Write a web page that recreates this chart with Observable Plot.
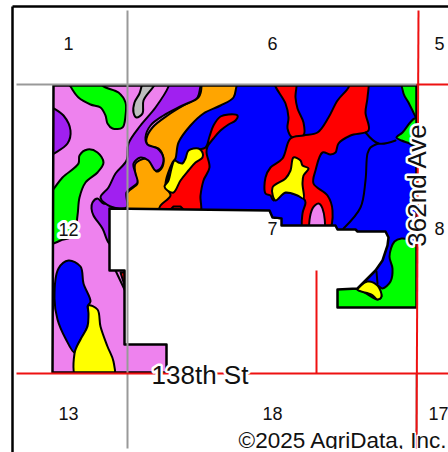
<!DOCTYPE html>
<html>
<head>
<meta charset="utf-8">
<style>html,body{margin:0;padding:0;background:#fff}svg{display:block}</style>
<script src="https://cdn.jsdelivr.net/npm/d3@7"></script>
<script src="https://cdn.jsdelivr.net/npm/@observablehq/plot@0.6"></script>
</head>
<body>
<div id="chart"></div>
<script>
const colors = {pink:"#EE82EE",purple:"#A020F0",orange:"#FFA500",blue:"#0000FF",red:"#FF0000",yellow:"#FFFF00",green:"#00FF00",gray:"#BEBEBE"};

const fieldOutline = [[53,85],[416,85],[416,307],[337,307],[337,289],[357,288],[375,270],[382,260],[387,245],[388,237],[385,231],[357,231],[355,229],[337,229],[335,225],[281,225],[281,218],[272,217],[269,210],[109,208],[109,270],[124,270],[124,344],[166,344],[166,372],[52,372]];

const pinkBase = [[40,70],[430,70],[430,390],[40,390]];
const purpleWest = [[40,100],[52,107],[63,115],[70,130],[67,143],[52,154],[40,162]];
const greenNorth = [[64,76],[70,86],[78,97],[90,104],[100,107],[105,115],[107,123],[112,128],[122,127],[125,115],[125,102],[118,92],[102,85],[100,76]];
const grayPatch = [[143,76],[141,86],[139,93],[134,102],[133,112],[136,117],[142,113],[143,100],[153,86],[158,76]];
const greenWest = [[40,205],[52,190],[62,177],[78,163],[79,155],[87,149],[97,152],[103,162],[97,172],[85,182],[79,197],[77,215],[73,235],[60,240],[53,243],[40,245]];
const purpleSmall = [[97,198],[92,202],[91,208],[93,215],[102,228],[108,242],[114,246],[114,204],[103,203]];
const blueSouth = [[68,260],[80,266],[83,283],[90,301],[87,306],[89,314],[87,326],[78,343],[74,352],[65,338],[57,319],[54,298],[58,268]];
const yellowSouth = [[88,305],[97,309],[100,326],[107,346],[113,361],[113,380],[77,380],[74,353],[80,339],[87,326],[88,314]];
const redNotch = [[120,272],[125,272],[125,288]];
const blueBase = [[205,70],[200,100],[170,140],[165,215],[165,320],[430,320],[430,70]];
const redWest = [[237,115],[235,120],[228,124],[220,130],[213,138],[207,146],[206,152],[209,167],[203,180],[200,195],[199,215],[150,215],[160,190],[175,170],[185,160],[195,150],[205,147],[209,136],[213,125],[220,116],[228,114]];
const orangeBand = [[199,76],[201,86],[198,97],[183,105],[167,115],[152,127],[146,138],[147,145],[158,148],[163,158],[161,168],[156,171],[152,160],[145,158],[135,163],[135,175],[137,183],[127,192],[122,215],[155,215],[160,205],[170,195],[165,185],[172,162],[175,158],[178,142],[190,125],[203,113],[220,105],[233,97],[236,86],[240,76]];
const purpleBand = [[170,76],[168,86],[155,107],[140,125],[128,143],[126,160],[115,173],[108,187],[100,197],[110,206],[126,207],[126,192],[130,188],[137,182],[135,173],[133,163],[140,157],[148,160],[155,170],[160,168],[163,158],[157,148],[147,144],[145,137],[150,125],[163,115],[182,105],[197,97],[200,86],[204,76]];
const yellowCentre = [[198,148],[202,152],[202,157],[195,162],[188,170],[180,180],[173,192],[167,190],[164,186],[168,180],[171,168],[174,160],[178,162],[182,163],[185,158],[188,150]];
const redBump = [[170,209],[173,206],[180,206],[183,209]];
const redNorth = [[272,76],[275,86],[285,103],[288,117],[287,128],[292,137],[303,135],[303,122],[297,108],[295,97],[295,76]];
const redMain = [[352,76],[348,87],[337,100],[328,117],[317,132],[303,135],[290,138],[282,158],[270,167],[265,177],[265,193],[270,195],[273,200],[285,192],[303,198],[305,202],[302,213],[303,230],[328,230],[332,210],[327,195],[313,183],[315,170],[322,152],[330,154],[335,152],[338,143],[350,135],[368,130],[365,112],[367,97],[367,76]];
const yellowEast = [[293,157],[300,160],[302,165],[308,168],[303,175],[302,183],[303,198],[297,195],[285,192],[275,200],[272,187],[285,178],[290,170]];
const pinkEast = [[318,203],[322,208],[323,230],[310,230],[312,208]];
const greenNorthEast = [[402,76],[403,93],[408,102],[412,110],[416,117],[425,117],[425,76]];
const greenEast = [[396,137],[402,132],[414,118],[425,118],[425,150],[416,147],[409,143],[401,140]];
const greenSouth = [[394,241],[389,256],[392,268],[390,281],[382,288],[377,285],[381,296],[377,299],[360,290],[330,285],[330,315],[425,315],[425,240],[416,245],[407,239],[401,238]];
const yellowSouthEast = [[367,281],[377,285],[381,296],[377,299],[371,294],[357,289]];

const regions = [
  [pinkBase,"pink","linear"],[purpleWest,"purple"],[greenNorth,"green"],[grayPatch,"gray"],[greenWest,"green"],[purpleSmall,"purple"],
  [blueSouth,"blue"],[yellowSouth,"yellow"],[redNotch,"red","linear"],[blueBase,"blue","linear"],[redWest,"red"],[orangeBand,"orange"],[purpleBand,"purple"],
  [yellowCentre,"yellow"],[redBump,"red","linear"],[redNorth,"red"],[redMain,"red"],[yellowEast,"yellow"],[pinkEast,"pink"],
  [greenNorthEast,"green"],[greenEast,"green"],[greenSouth,"green"],[yellowSouthEast,"yellow"]
];
const soilLines = [
  [[365,132],[378,143],[395,140]],
  [[378,143],[370,147],[367,153],[365,180],[360,207],[343,228]],
  [[376,271],[377,283]],
  [[115,270],[124,289]]
];

const outerRing = [[14,8],[448,8],[448,420],[14,420],[14,85]];
const maskRing = [...outerRing, ...[...fieldOutline].reverse().slice(-1), ...[...fieldOutline].reverse(), [14,85]];

const grayRoads = [[16,84,416,84],[127,10,127,448],[416,373,416,448]];
const redRoads = [[416,84,448,84],[418,10,416,448],[16,373,448,373],[316,270,316,373]];
const sectionLabels = [["1",68,44],["6",272,44],["5",439,44],["8",439,229],["13",68,414],["18",272,414],["17",438,414]];
const haloLabels = [["12",68,230],["7",272,229]];
const roadLabels = [["138th St",199.5,375,0],["362nd Ave",417,185,-90]];
const credit = ["©2025 AgriData, Inc.",446,447];
const frameLeft = [12,6,12,452], frameTop = [12,6,448,6];
const bottomCut = [14,449,448,452];

const X = d => d[0], Y = d => d[1];
const seg = (rows, o) => Plot.link(rows, {x1:d=>d[0], y1:d=>d[1], x2:d=>d[2], y2:d=>d[3], ...o});
const font = "Liberation Sans, Arial, sans-serif";

const plot = Plot.plot({
  width:448, height:452, margin:0,
  x:{domain:[0,448], range:[0,448], axis:null},
  y:{domain:[0,452], range:[0,452], axis:null},
  marks:[
    ...regions.map(([pts,c,curve]) => Plot.line(pts,{x:X,y:Y,fill:colors[c],stroke:"black",strokeWidth:2,curve:curve==="linear"?"linear-closed":"catmull-rom-closed"})),
    ...soilLines.map(pts => Plot.line(pts,{x:X,y:Y,stroke:"black",strokeWidth:2,curve:"catmull-rom"})),
    Plot.line(maskRing,{x:X,y:Y,fill:"white",stroke:"none",curve:"linear-closed"}),
    Plot.line(fieldOutline,{x:X,y:Y,stroke:"black",strokeWidth:2.5,curve:"linear-closed"}),
    seg(grayRoads,{stroke:"#999",strokeWidth:2}),
    seg(redRoads,{stroke:"#EE1111",strokeWidth:2}),
    seg([frameLeft,frameTop],{stroke:"black",strokeWidth:2.5}),
    Plot.text(sectionLabels,{x:d=>d[1],y:d=>d[2],text:d=>d[0],fontSize:18,fontFamily:font,fill:"#111"}),
    Plot.text(haloLabels,{x:d=>d[1],y:d=>d[2],text:d=>d[0],fontSize:18,fontFamily:font,fill:"#111",stroke:"white",strokeWidth:6}),
    Plot.text(roadLabels,{x:d=>d[1],y:d=>d[2],text:d=>d[0],rotate:d=>d[3],fontSize:26,fontFamily:font,fill:"#111",stroke:"white",strokeWidth:5}),
    Plot.text([credit],{x:d=>d[1],y:d=>d[2],text:d=>d[0],textAnchor:"end",lineAnchor:"bottom",fontSize:22.5,fontFamily:font,fill:"#111",stroke:"white",strokeWidth:3}),
    Plot.rect([bottomCut],{x1:d=>d[0],y1:d=>d[1],x2:d=>d[2],y2:d=>d[3],fill:"white"})
  ]
});
document.getElementById("chart").append(plot);
</script>
</body>
</html>
